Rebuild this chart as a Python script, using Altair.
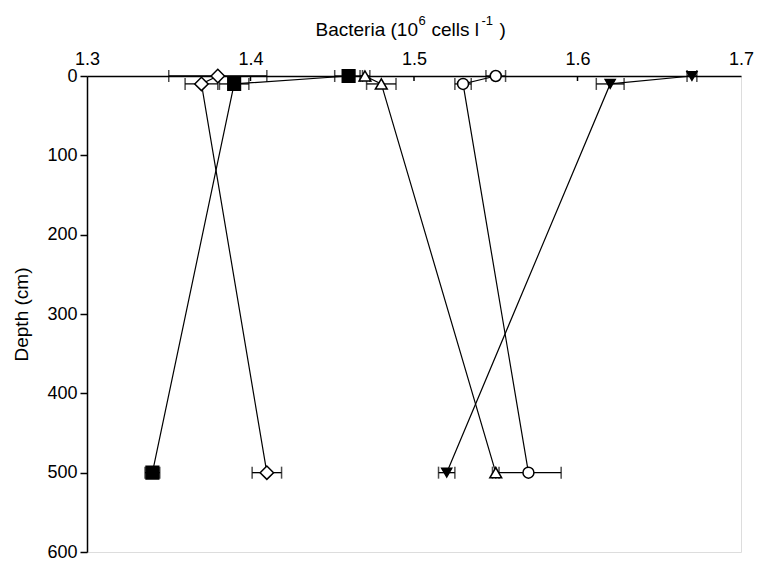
import altair as alt
import pandas as pd

# ---- data ----
depths = [0, 10, 500]
series = ["diamond", "square", "triangle-up", "circle", "triangle-down"]
diamond_vals = [1.38, 1.37, 1.41]
diamond_err = [0.030, 0.010, 0.009]
square_vals = [1.46, 1.39, 1.34]
square_err = [0.0085, 0.009, 0.0045]
triup_vals = [1.47, 1.48, 1.55]
triup_err = [0.003, 0.009, 0.002]
circle_vals = [1.55, 1.53, 1.57]
circle_err = [0.006, 0.005, 0.020]
tridown_vals = [1.67, 1.62, 1.52]
tridown_err = [0.003, 0.0085, 0.005]

x_ticks = [1.3, 1.4, 1.5, 1.6, 1.7]
inner_ticks = [1.4, 1.5, 1.6]
y_ticks = [0, 100, 200, 300, 400, 500, 600]

# x-axis title split into pieces so the exponents can be raised
title_parts = ["Bacteria", "(10", "6", "cells l", "-1", ")"]
title_super = [False, False, True, False, True, False]
title_offsets = [-98.5, -23.5, 4.5, 17.5, 67.5, 85.5]   # px from plot centre

fills = ["white", "black", "white", "white", "black"]
sizes = [180, 100, 150, 125, 150]

vals = [diamond_vals, square_vals, triup_vals, circle_vals, tridown_vals]
errs = [diamond_err, square_err, triup_err, circle_err, tridown_err]

rows = []
for s, v, e in zip(series, vals, errs):
    for i, d in enumerate(depths):
        rows.append({"series": s, "depth": d, "order": i, "value": v[i],
                     "lo": v[i] - e[i], "hi": v[i] + e[i]})
df = pd.DataFrame(rows)
ticks_df = pd.DataFrame({"t": inner_ticks})

W, H = 654, 476
FONT = "Liberation Sans"
xscale = alt.Scale(domain=[1.3, 1.7], nice=False, zero=False)
yscale = alt.Scale(domain=[0, 600], reverse=True, nice=False, zero=False)

xaxis = alt.Axis(orient="top", values=x_ticks, format=".1f", ticks=False,
                 labelFlush=False, labelOverlap=False, grid=False,
                 domainColor="black", domainWidth=1.5,
                 labelFont=FONT, labelFontSize=18, labelColor="black",
                 labelPadding=8)
yaxis = alt.Axis(values=y_ticks, grid=False, labelFlush=False, labelOverlap=False,
                 domainColor="black", domainWidth=1.5,
                 tickColor="black", tickWidth=1.5, tickSize=7,
                 labelFont=FONT, labelFontSize=18, labelColor="black",
                 labelPadding=3, titleFont=FONT, titleFontSize=19,
                 titleFontWeight="normal", titleColor="black", titlePadding=15)

base = alt.Chart(df)

x_enc = alt.X("value:Q", scale=xscale, axis=xaxis, title=None)
y_enc = alt.Y("depth:Q", scale=yscale, axis=yaxis, title="Depth (cm)")

lines = base.mark_line(color="black", strokeWidth=1.2).encode(
    x=x_enc, y=y_enc, detail="series:N", order="order:Q")

bars = base.mark_rule(color="black", strokeWidth=1.3).encode(
    x=alt.X("lo:Q", scale=xscale), x2="hi:Q", y=alt.Y("depth:Q", scale=yscale))

cap_lo = base.mark_tick(color="black", orient="vertical", size=12, thickness=1.5).encode(
    x=alt.X("lo:Q", scale=xscale), y=alt.Y("depth:Q", scale=yscale))
cap_hi = base.mark_tick(color="black", orient="vertical", size=12, thickness=1.5).encode(
    x=alt.X("hi:Q", scale=xscale), y=alt.Y("depth:Q", scale=yscale))

points = base.mark_point(filled=True, stroke="black", strokeWidth=1.5, opacity=1).encode(
    x=alt.X("value:Q", scale=xscale),
    y=alt.Y("depth:Q", scale=yscale),
    shape=alt.Shape("series:N", scale=alt.Scale(domain=series, range=series), legend=None),
    fill=alt.Fill("series:N", scale=alt.Scale(domain=series, range=fills), legend=None),
    size=alt.Size("series:N", scale=alt.Scale(domain=series, range=sizes), legend=None),
)

inward = alt.Chart(ticks_df).mark_rule(color="black", strokeWidth=1.5).encode(
    x=alt.X("t:Q", scale=xscale), y=alt.value(0), y2=alt.value(5))

title_layers = []
for txt, sup, off in zip(title_parts, title_super, title_offsets):
    t = alt.Chart(pd.DataFrame({"label": [txt]})).mark_text(
        font=FONT, fontSize=13 if sup else 19, color="black",
        align="left", baseline="alphabetic").encode(
        text="label:N",
        x=alt.value(W / 2 + off),
        y=alt.value(-51 if sup else -40))
    title_layers.append(t)

chart = alt.layer(lines, bars, cap_lo, cap_hi, points, inward, *title_layers).properties(
    width=W, height=H,
    autosize=alt.AutoSizeParams(type="none"),
    padding={"left": 79, "top": 68, "right": 13, "bottom": 9},
).configure_view(stroke="black", strokeWidth=1.5).configure(background="white")

chart.save("out.html", embed_options={"renderer": "svg", "actions": False})
